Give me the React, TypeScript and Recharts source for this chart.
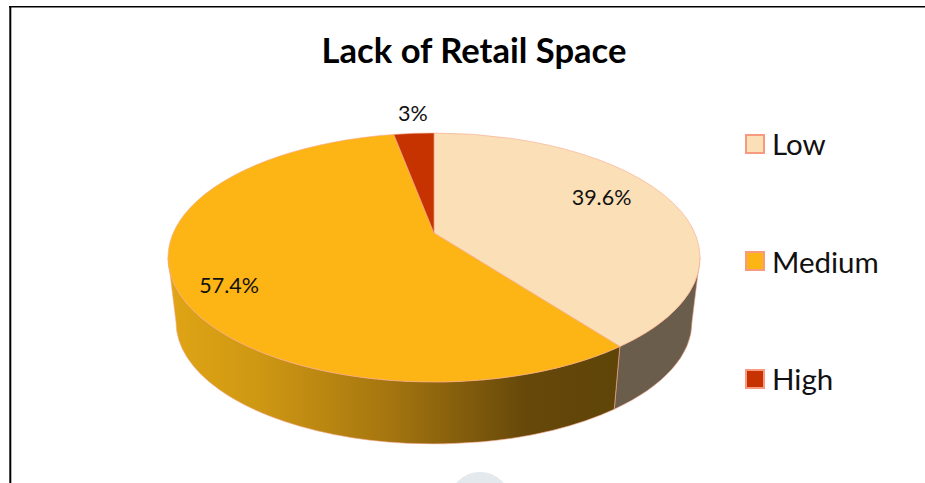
import React from "react";
import { PieChart, Pie, Legend } from "recharts";

const categories = ["Low", "Medium", "High"];
const shares = [39.6, 57.4, 3];
const shareLabels = ["39.6%", "57.4%", "3%"];
const topColors = ["#FBDFB6", "#FDB515", "#C63300"];
const wallColors = ["#6A5D4B", "url(#mediumWall)", "#7A2000"];

const rows = categories.map((name, i) => ({
  name,
  value: shares[i],
  fill: topColors[i],
  label: shareLabels[i],
  wall: wallColors[i],
}));

const W = 925;
const H = 483;
const APEX_X = 434;
const APEX_Y = 233;
const RX = 266;
const TOP = { cx: 434, cy: 257.5, rx: 266, ry: 124.5 };
const BOTTOM = { cx: 434, cy: 322, rx: 258, ry: 122 };
const EDGE = "#F6A78E";
const FONT = "Lato, 'Open Sans', sans-serif";
const labelNudge = [
  { fraction: 0.665, dx: 0, dy: -9.5 },
  { fraction: 0.84, dx: -1, dy: 9 },
  { fraction: 1.0, dx: -1, dy: -20 },
];

// Perspective: a ray from the apex in the flattened plane meets the rim ellipse.
const rimPhase = (deg: number) => {
  const a = ((90 - deg) * Math.PI) / 180;
  const dx = Math.sin(a);
  const dy = -Math.cos(a);
  const oy = (APEX_Y - TOP.cy) / TOP.ry;
  const b = dy * oy;
  const c = oy * oy - 1;
  const t = -b + Math.sqrt(b * b - c);
  let phi = Math.atan2(dx * t, -(oy + dy * t));
  if (phi < -1e-6) phi += Math.PI * 2;
  return phi;
};
const onEllipse = (e: typeof TOP, phi: number) => ({
  x: e.cx + e.rx * Math.sin(phi),
  y: e.cy - e.ry * Math.cos(phi),
});

const Slice3D = (props: any) => {
  const { startAngle, endAngle, fill, payload } = props;
  const p0 = rimPhase(startAngle);
  let p1 = rimPhase(endAngle);
  if (p1 <= p0) p1 = Math.PI * 2;
  const a = onEllipse(TOP, p0);
  const b = onEllipse(TOP, p1);
  const large = p1 - p0 > Math.PI ? 1 : 0;
  const top = `M${APEX_X},${APEX_Y} L${a.x},${a.y} A${TOP.rx},${TOP.ry} 0 ${large} 1 ${b.x},${b.y} Z`;
  const lo = Math.max(p0, Math.PI / 2);
  const hi = Math.min(p1, (Math.PI * 3) / 2);
  let wall = null;
  if (lo < hi) {
    const t0 = onEllipse(TOP, lo);
    const t1 = onEllipse(TOP, hi);
    const b0 = onEllipse(BOTTOM, lo);
    const b1 = onEllipse(BOTTOM, hi);
    const d = `M${t0.x},${t0.y} A${TOP.rx},${TOP.ry} 0 0 1 ${t1.x},${t1.y} L${b1.x},${b1.y} A${BOTTOM.rx},${BOTTOM.ry} 0 0 0 ${b0.x},${b0.y} Z`;
    wall = <path d={d} fill={payload?.wall ?? props.wall} stroke={EDGE} strokeWidth={0.6} />;
  }
  return (
    <g>
      {wall}
      <path d={top} fill={fill} stroke={EDGE} strokeWidth={0.6} strokeLinejoin="round" />
    </g>
  );
};

const SliceLabel = (props: any) => {
  const { index, midAngle } = props;
  const n = labelNudge[index];
  const a = ((90 - midAngle) * Math.PI) / 180;
  let x = APEX_X + Math.sin(a) * n.fraction * TOP.rx + n.dx;
  let y = APEX_Y - Math.cos(a) * n.fraction * TOP.ry + n.dy;
  if (index === 2) {
    const rim = onEllipse(TOP, rimPhase(midAngle));
    x = rim.x + n.dx;
    y = rim.y + n.dy;
  }
  return (
    <text x={x} y={y} textAnchor="middle" dominantBaseline="central" fontFamily={FONT} fontSize={21.5} fill="#111">
      {rows[index].label}
    </text>
  );
};

const LegendBox = () => (
  <div style={{ fontFamily: FONT, fontSize: 29.5, color: "#111" }}>
    {rows.map((r) => (
      <div key={r.name} style={{ height: 117.5, display: "flex", alignItems: "center" }}>
        <span
          style={{
            width: 16,
            height: 16,
            background: r.fill,
            border: "2px solid #F79A80",
            marginRight: 7,
            display: "inline-block",
          }}
        />
        <span>{r.name}</span>
      </div>
    ))}
  </div>
);

export default function App() {
  return (
    <div style={{ position: "absolute", left: 0, top: 0, width: W, height: H, overflow: "hidden", background: "#fff" }}>
      <PieChart width={W} height={H} margin={{ top: 0, right: 0, bottom: 0, left: 0 }}>
        <defs>
          <linearGradient id="mediumWall" gradientUnits="userSpaceOnUse" x1={168} y1={0} x2={616} y2={0}>
            <stop offset="0" stopColor="#E0A515" />
            <stop offset="0.2" stopColor="#CF9813" />
            <stop offset="0.5" stopColor="#A4750F" />
            <stop offset="0.8" stopColor="#66480A" />
            <stop offset="1" stopColor="#5F4508" />
          </linearGradient>
        </defs>
        <line x1={9} y1={6.7} x2={W} y2={6.7} stroke="#000" strokeWidth={1.6} />
        <line x1={10.3} y1={6} x2={10.3} y2={H} stroke="#000" strokeWidth={2} />
        <circle cx={480} cy={503} r={31} fill="#E4E9ED" />
        <text x={474} y={63} textAnchor="middle" fontFamily={FONT} fontWeight={700} fontSize={34.6} fill="#000">
          Lack of Retail Space
        </text>
        <Pie
          data={rows}
          dataKey="value"
          nameKey="name"
          cx={APEX_X}
          cy={APEX_Y}
          outerRadius={RX}
          startAngle={90}
          endAngle={-270}
          stroke={EDGE}
          shape={Slice3D}
          label={SliceLabel}
          labelLine={false}
          isAnimationActive={false}
        />
        <Legend
          content={LegendBox}
          wrapperStyle={{ position: "absolute", left: 745, top: 85, width: 180, height: 354 }}
        />
      </PieChart>
    </div>
  );
}
